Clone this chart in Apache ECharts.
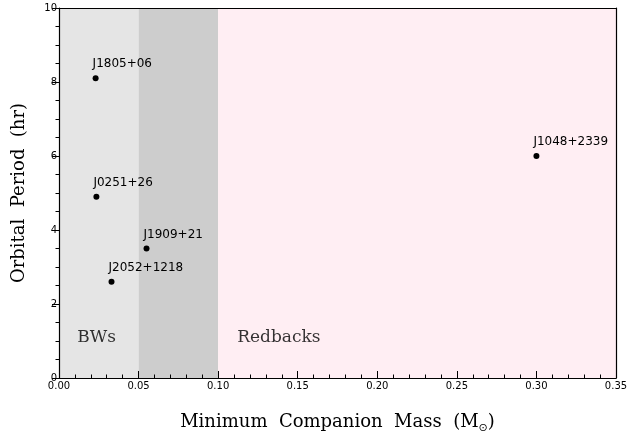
<!DOCTYPE html>
<html>
<head>
<meta charset="utf-8">
<script src="https://cdn.jsdelivr.net/npm/echarts@6/dist/echarts.min.js"></script>
<style>
  html, body { margin: 0; padding: 0; background: #fff; }
  #chart { width: 628px; height: 434px; }
</style>
</head>
<body>
<div id="chart"></div>
<script>
// pulsar data
var names = ['J1805+06', 'J0251+26', 'J1909+21', 'J2052+1218', 'J1048+2339'];
var masses = [0.023, 0.0235, 0.055, 0.033, 0.30];
var periods = [8.1, 4.9, 3.5, 2.6, 6.0];

// shaded regions [from, to, colour]
var bands = [
    [0.00, 0.05, '#e5e5e5'],
    [0.05, 0.10, '#cdcdcd'],
    [0.10, 0.35, '#ffeef3'],
];
var regionLabels = [
    { text: 'BWs', x: 0.0115, y: 1.1 },
    { text: 'Redbacks', x: 0.112, y: 1.1 },
];

var serif = "'DejaVu Serif', 'Liberation Serif', serif";
var sans = "'DejaVu Sans', sans-serif";

var chart = echarts.init(document.getElementById('chart'));

var points = [];
for (var i = 0; i < names.length; i++) {
    points.push({ name: names[i], value: [masses[i], periods[i]] });
}

var option = {
    animation: false,
    grid: { left: 59, right: 12, top: 8, bottom: 56, outerBoundsMode: 'none', containLabel: false },
    xAxis: [
        {
            type: 'value',
            min: 0,
            max: 0.35,
            interval: 0.05,
            z: 10,
            name: 'Minimum  Companion  Mass  (M{sub|⊙})',
            nameLocation: 'middle',
            nameGap: 33,
            nameTextStyle: {
                fontFamily: serif,
                fontSize: 18,
                color: '#000',
                rich: {
                    sub: { fontSize: 11, fontFamily: sans, color: '#000', padding: [12, 0, 0, 0] },
                },
            },
            axisLine: { show: true, lineStyle: { color: '#000', width: 1.2 } },
            axisTick: { show: true, inside: true, length: 7, lineStyle: { color: '#000' } },
            minorTick: { show: true, splitNumber: 5, length: 3.5, lineStyle: { color: '#000' } },
            axisLabel: {
                color: '#000',
                fontFamily: sans,
                fontSize: 10,
                margin: 3,
                formatter: function (v) { return v.toFixed(2); },
            },
            splitLine: { show: false },
        },
        {
            type: 'value',
            position: 'top',
            min: 0,
            max: 0.35,
            z: 10,
            axisLine: { show: true, onZero: false, lineStyle: { color: '#000', width: 1.2 } },
            axisTick: { show: false },
            axisLabel: { show: false },
            splitLine: { show: false },
        },
    ],
    yAxis: [
        {
            type: 'value',
            min: 0,
            max: 10,
            interval: 2,
            z: 10,
            name: 'Orbital  Period  (hr)',
            nameLocation: 'middle',
            nameGap: 31,
            nameTextStyle: { fontFamily: serif, fontSize: 18, color: '#000' },
            axisLine: { show: true, lineStyle: { color: '#000', width: 1.2 } },
            axisTick: { show: true, length: 7, lineStyle: { color: '#000' } },
            minorTick: { show: true, splitNumber: 4, length: 3.5, lineStyle: { color: '#000' } },
            axisLabel: { color: '#000', fontFamily: sans, fontSize: 10, margin: 2 },
            splitLine: { show: false },
        },
        {
            type: 'value',
            position: 'right',
            min: 0,
            max: 10,
            z: 10,
            axisLine: { show: true, onZero: false, lineStyle: { color: '#000', width: 1.2 } },
            axisTick: { show: false },
            axisLabel: { show: false },
            splitLine: { show: false },
        },
    ],
    series: [
        {
            type: 'scatter',
            z: 1,
            data: [],
            silent: true,
            markArea: {
                silent: true,
                data: bands.map(function (b) {
                    return [
                        { xAxis: b[0], yAxis: 0, itemStyle: { color: b[2], opacity: 1 } },
                        { xAxis: b[1], yAxis: 10 },
                    ];
                }),
            },
        },
        {
            type: 'scatter',
            z: 3,
            symbolSize: 6,
            itemStyle: { color: '#000', opacity: 1 },
            data: points,
            label: {
                show: true,
                formatter: '{b}',
                position: [0, -5],
                align: 'left',
                verticalAlign: 'bottom',
                fontFamily: sans,
                fontSize: 12,
                color: '#000',
            },
        },
        {
            type: 'scatter',
            z: 3,
            symbolSize: 0,
            data: regionLabels.map(function (r) { return { name: r.text, value: [r.x, r.y] }; }),
            label: {
                show: true,
                formatter: '{b}',
                position: 'inside',
                align: 'left',
                verticalAlign: 'middle',
                fontFamily: serif,
                fontSize: 17,
                color: '#000',
            },
        },
    ],
};

chart.setOption(option);
</script>
</body>
</html>
